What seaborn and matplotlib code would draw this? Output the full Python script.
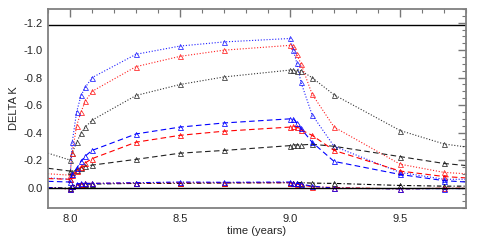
import numpy as np
import pandas as pd
import matplotlib
matplotlib.use("Agg")
import matplotlib.pyplot as plt
import seaborn as sns
from matplotlib.ticker import MultipleLocator, FormatStrFormatter

time = [7.9, 8.0, 8.01, 8.03, 8.05, 8.07, 8.1, 8.3, 8.5, 8.7,
        9.0, 9.015, 9.03, 9.05, 9.1, 9.2, 9.5, 9.7, 9.8]

blue_dotted = [-0.07, -0.06, -0.33, -0.55, -0.67, -0.73, -0.80, -0.97, -1.03, -1.06,
               -1.085, -1.0, -0.91, -0.765, -0.53, -0.30, -0.11, -0.06, -0.06]
red_dotted = [-0.10, -0.09, -0.25, -0.45, -0.55, -0.63, -0.70, -0.88, -0.955, -1.0,
              -1.035, -1.03, -0.97, -0.90, -0.68, -0.44, -0.17, -0.11, -0.10]
black_dotted = [-0.25, -0.20, -0.25, -0.33, -0.395, -0.44, -0.49, -0.67, -0.75, -0.805,
                -0.855, -0.855, -0.85, -0.85, -0.80, -0.675, -0.415, -0.317, -0.295]
blue_dashed = [-0.045, -0.04, -0.10, -0.14, -0.19, -0.23, -0.27, -0.39, -0.44, -0.47,
               -0.50, -0.50, -0.47, -0.43, -0.33, -0.19, -0.095, -0.05, -0.04]
red_dashed = [-0.065, -0.06, -0.09, -0.12, -0.15, -0.18, -0.21, -0.33, -0.38, -0.41,
              -0.44, -0.445, -0.44, -0.42, -0.38, -0.27, -0.12, -0.08, -0.07]
black_dashed = [-0.14, -0.12, -0.11, -0.13, -0.145, -0.155, -0.163, -0.205, -0.25, -0.27,
                -0.305, -0.31, -0.31, -0.31, -0.315, -0.30, -0.225, -0.175, -0.16]
blue_dashdot = [0.0, 0.01, -0.01, -0.025, -0.03, -0.03, -0.03, -0.035, -0.04, -0.038,
                -0.04, -0.035, -0.03, -0.025, -0.01, 0.005, 0.01, 0.008, 0.008]
red_dashdot = [0.0, 0.012, -0.01, -0.02, -0.025, -0.03, -0.03, -0.033, -0.035, -0.035,
               -0.035, -0.03, -0.025, -0.02, -0.005, 0.0, 0.01, 0.005, 0.005]
black_dashdot = [0.0, 0.005, -0.01, -0.02, -0.022, -0.025, -0.025, -0.03, -0.03, -0.033,
                 -0.035, -0.035, -0.035, -0.035, -0.032, -0.03, -0.015, -0.01, -0.01]

ref_lines = [-1.185, 0.0]

sns.set_theme(style="white")
plt.rcParams['font.family'] = ['Liberation Sans', 'DejaVu Sans']
plt.rcParams['axes.unicode_minus'] = False

fig = plt.figure(figsize=(4.85, 2.42), dpi=100)
ax = fig.add_axes([0.099, 0.14, 0.862, 0.823])

series = [
    (black_dotted, "#333333", (0, (1, 1.6))),
    (red_dotted, "#ff2020", (0, (1, 1.6))),
    (blue_dotted, "#2020ff", (0, (1, 1.6))),
    (black_dashed, "#222222", (0, (5, 3))),
    (red_dashed, "#ff0000", (0, (5, 3))),
    (blue_dashed, "#0000ff", (0, (5, 3))),
    (black_dashdot, "black", (0, (4, 2, 1, 2))),
    (red_dashdot, "#ff0000", (0, (4, 2, 1, 2))),
    (blue_dashdot, "#0000ff", (0, (4, 2, 1, 2))),
]

n = len(time)
for vals, col, ls in series:
    df = pd.DataFrame({"time": time, "dk": vals})
    sns.lineplot(data=df, x="time", y="dk", ax=ax, color=col, linestyle=ls,
                 linewidth=0.8, marker="^", markersize=3.6, markerfacecolor="none",
                 markeredgecolor=col, markeredgewidth=0.55,
                 markevery=list(range(1, n - 1)), sort=False, estimator=None)

for y in ref_lines:
    ax.axhline(y, color="black", linewidth=1.0)

ax.set_xlim(7.9, 9.8)
ax.set_ylim(0.15, -1.3)
ax.xaxis.set_major_locator(MultipleLocator(0.5))
ax.xaxis.set_minor_locator(MultipleLocator(0.1))
ax.yaxis.set_major_locator(MultipleLocator(0.2))
ax.yaxis.set_minor_locator(MultipleLocator(0.05))
ax.xaxis.set_major_formatter(FormatStrFormatter('%.1f'))
ax.yaxis.set_major_formatter(FormatStrFormatter('%.1f'))
ax.tick_params(which="both", direction="in", top=True, right=True,
               color="#777777", labelsize=8, pad=4)
ax.tick_params(which="major", length=6, width=1)
ax.tick_params(which="minor", length=3, width=0.8)
for s in ax.spines.values():
    s.set_color("#808080")
    s.set_linewidth(1.3)

ax.set_xlabel("time (years)", fontsize=8, labelpad=2)
ax.set_ylabel("DELTA K", fontsize=8, labelpad=3)

fig.savefig("out.png", dpi=100)
